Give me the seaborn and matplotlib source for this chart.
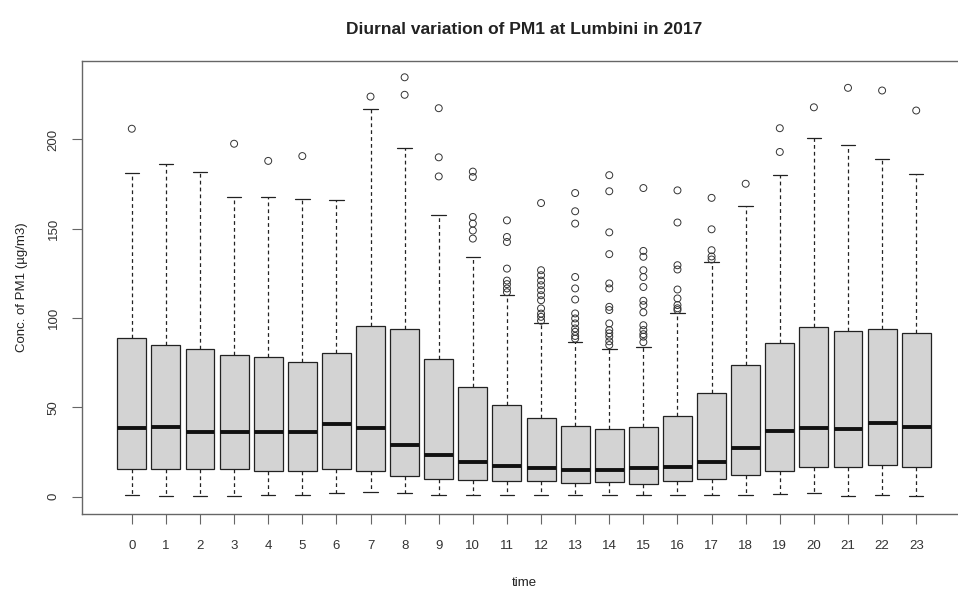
import numpy as np
import pandas as pd
import matplotlib
matplotlib.use("Agg")
import matplotlib.pyplot as plt
import seaborn as sns

# hour of day
hours = [str(h) for h in range(24)]

# five number summary per hour
whis_lo = [1.1, 0.6, 0.6, 0.6, 1.0, 1.0, 2.2, 2.4, 2.2, 1.1, 1.1, 1.1,
           1.1, 1.1, 1.1, 1.1, 1.1, 1.1, 1.1, 1.5, 2.0, 0.2, 1.1, 0.2]
q1 = [15.6, 15.6, 15.6, 15.6, 14.2, 14.2, 15.5, 14.2, 11.4, 9.9, 9.5, 8.6,
      8.6, 7.7, 8.0, 7.3, 8.6, 9.9, 11.9, 14.2, 16.6, 16.6, 17.5, 16.6]
med = [38.5, 39.0, 36.0, 36.0, 36.0, 36.5, 40.6, 38.4, 29.0, 23.5, 19.7, 17.3,
       16.0, 14.7, 14.7, 16.0, 16.6, 19.2, 27.2, 37.0, 38.7, 37.8, 41.1, 39.3]
q3 = [89.0, 85.0, 82.6, 79.3, 78.0, 75.6, 80.3, 95.7, 93.7, 77.0, 61.3, 51.4,
      44.0, 39.8, 37.8, 39.0, 45.4, 57.9, 73.7, 85.9, 95.2, 92.7, 93.7, 91.5]
whis_hi = [181.0, 186.4, 182.0, 167.8, 167.8, 166.5, 166.3, 217.0, 195.4, 157.5, 134.0, 112.8,
           97.0, 86.8, 82.5, 84.0, 102.6, 131.5, 163.0, 180.0, 200.8, 197.0, 188.8, 180.8]

# outliers per hour
outliers = [
    [206.0],
    [],
    [],
    [197.6],
    [188.0],
    [190.7],
    [],
    [224.0],
    [234.8, 225.0],
    [217.5, 190.0, 179.3],
    [182.0, 179.0, 156.6, 152.9, 149.0, 144.5],
    [154.7, 145.4, 142.6, 127.7, 121.0, 119.0, 116.6, 114.5],
    [164.4, 126.8, 124.0, 121.0, 118.4, 115.6, 112.8, 110.0, 105.4, 102.5, 100.7, 98.5],
    [170.0, 159.8, 152.9, 123.0, 116.6, 110.4, 102.6, 99.8, 97.0, 94.2, 92.3, 90.0, 88.5],
    [180.0, 171.0, 148.0, 135.8, 119.4, 116.6, 106.3, 104.5, 97.0, 93.3, 91.5, 89.6, 87.0, 84.9],
    [172.8, 137.6, 134.3, 126.8, 123.0, 117.4, 109.7, 107.3, 103.2, 96.0, 93.3, 91.0, 89.6, 86.5],
    [171.5, 153.5, 129.6, 127.2, 116.0, 111.0, 107.3, 105.5, 104.5],
    [167.3, 149.7, 138.0, 134.5, 132.8],
    [175.2],
    [206.3, 193.0],
    [218.0],
    [228.9],
    [227.4],
    [216.2],
]

box_df = pd.DataFrame({
    "time": np.repeat(hours, 5),
    "conc": np.column_stack([whis_lo, q1, med, q3, whis_hi]).ravel(),
})
out_df = pd.DataFrame({
    "time": [h for h, vals in zip(hours, outliers) for _ in vals],
    "conc": [v for vals in outliers for v in vals],
})

sns.set_style("ticks")
plt.rcParams["font.family"] = ["Liberation Sans", "DejaVu Sans"]
plt.rcParams["text.color"] = "#222222"
plt.rcParams["axes.labelcolor"] = "#222222"
plt.rcParams["xtick.color"] = "#333333"
plt.rcParams["ytick.color"] = "#333333"

fig = plt.figure(figsize=(9.58, 5.94), dpi=100)
ax = fig.add_axes([82 / 958, 80.5 / 594, 884 / 958, 453 / 594])

sns.boxplot(data=box_df, x="time", y="conc", order=hours, whis=(0, 100),
            width=0.85, color="#d3d3d3", linecolor="#222222", linewidth=0.9,
            saturation=1, showfliers=False,
            medianprops=dict(linewidth=2.8, color="#111111"),
            whiskerprops=dict(linestyle=(0, (3, 2.5))),
            ax=ax)

sns.stripplot(data=out_df, x="time", y="conc", order=hours, jitter=False,
              color="black", size=5, ax=ax)
for coll in ax.collections:
    coll.set_facecolor("none")
    coll.set_edgecolor("#333333")
    coll.set_linewidth(0.7)

ax.set_xlim(-1.46, 24.46)
ax.set_ylim(-9.4, 244.2)
ax.set_yticks([0, 50, 100, 150, 200])
ax.set_yticklabels(["0", "50", "100", "150", "200"], rotation=90, va="center")

for s in ax.spines.values():
    s.set_color("#666666")
    s.set_linewidth(1.0)
ax.tick_params(axis="both", length=7, width=0.8, labelsize=9.5, color="#666666")
ax.tick_params(axis="x", pad=12)
ax.tick_params(axis="y", pad=9)

ax.set_title("Diurnal variation of PM1 at Lumbini in 2017", fontsize=12.5,
             fontweight="bold", pad=19)
ax.set_xlabel("time", fontsize=9.5, labelpad=18)
ax.set_ylabel("Conc. of PM1 (µg/m3)", fontsize=9.5, labelpad=14)

plt.savefig("out.png", dpi=100)
